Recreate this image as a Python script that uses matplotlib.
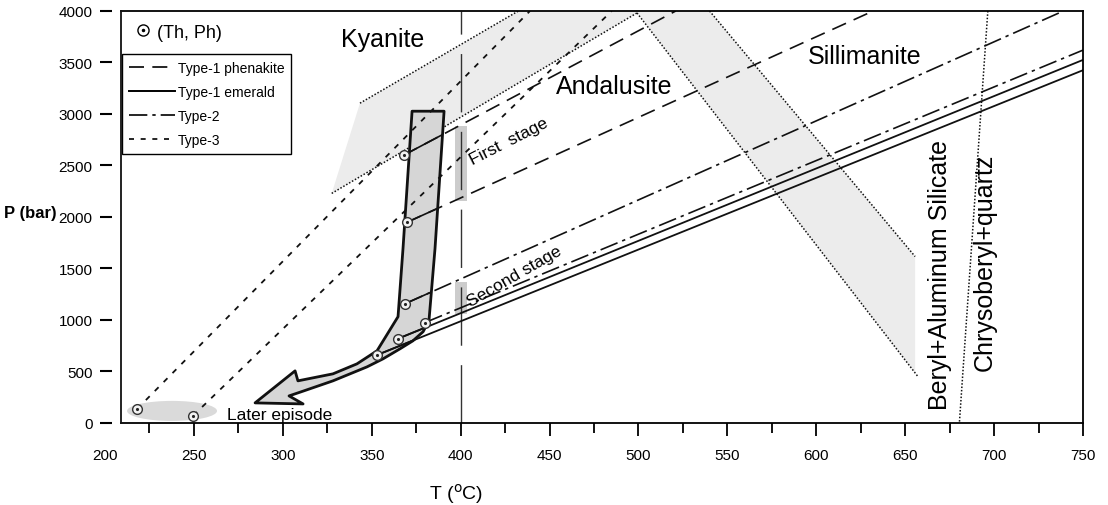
import numpy as np
import matplotlib.pyplot as plt
from matplotlib.lines import Line2D
from matplotlib.patches import Polygon, Ellipse
from matplotlib.legend_handler import HandlerTuple
from matplotlib.ticker import MultipleLocator

plt.rcParams['font.family'] = ['Liberation Sans', 'DejaVu Sans']

# isochores: start at the (Th, Ph) point, end where they leave the frame (T in C, P in bar)
phen_start = [(368, 2600), (370, 1950)]
phen_end = [(521, 4000), (632, 4000)]
emer_start = [(365, 820), (353, 660)]
emer_end = [(750, 3525), (750, 3425)]
type2_start = [(369, 1160), (380, 975)]
type2_end = [(739, 4000), (750, 3620)]
type3_start = [(218, 135), (249.5, 70)]
type3_end = [(439, 4000), (485, 4000)]

# Al2SiO5 boundaries (dotted band edges)
ky_upper = [(343.4, 3105), (432.5, 4000)]
ky_lower = [(327.5, 2229), (499.2, 3981)]
sil_left = [(499.2, 3981), (657.3, 448)]
sil_right = [(540, 4000), (655.6, 1616)]
# beryl + Al-silicate = chrysoberyl + quartz
bsi_line = [(696.5, 4000), (680.5, 0)]

# P-T path outline (gray arrow)
path_T = [372.7, 390.7, 385.6, 382.2, 378.9, 373.2, 365.9, 356.4, 347.4, 328.2, 310.2,
          303.5, 311.4, 284.4, 306.9, 308.5, 328.2, 341.7, 353.0, 364.8, 367.6]
path_P = [3027, 3027, 1693, 993, 886, 798, 720, 623, 545, 409, 302,
          263, 185, 195, 506, 409, 477, 574, 701, 1032, 1693]

first_stage_P = (2151, 2881)
second_stage_P = (1061, 1372)
stage_T = (396.6, 403.4)

legend_labels = ['Type-1 phenakite', 'Type-1 emerald', 'Type-2', 'Type-3']

phen_ls = (0, (9, 5))
type2_ls = (0, (11, 3, 2, 3))
type3_ls = (0, (3, 4))
dot_ls = (0, (1, 1.2))

fig = plt.figure(figsize=(11.08, 5.06), dpi=100)
ax = fig.add_axes([0.1092, 0.1621, 0.8682, 0.8142])
ax.set_xlim(209, 750)
ax.set_ylim(0, 4000)

# shaded aluminum silicate bands
e_P = np.interp(sil_right[1][0], [sil_left[0][0], sil_left[1][0]], [sil_left[0][1], sil_left[1][1]])
band = Polygon([ky_upper[0], ky_upper[1], sil_right[0], sil_right[1],
                (sil_right[1][0], e_P), ky_lower[1], ky_lower[0]],
               closed=True, facecolor='#ececec', edgecolor='none', zorder=0.5)
ax.add_patch(band)
for seg in (ky_upper, ky_lower, sil_left, sil_right, bsi_line):
    ax.plot(*zip(*seg), color='#111111', lw=1.1, ls=dot_ls, zorder=1)

# T = 400 C reference line and stage bars
ax.axvline(400, color='#333333', lw=1, ls=(0, (42, 14)), zorder=1.2)
for p0, p1 in (first_stage_P, second_stage_P):
    ax.fill_between(stage_T, p0, p1, color='#cccccc', lw=0, zorder=1.1)

# gray ellipse around type-3 points
ax.add_patch(Ellipse((237.7, 117), 50.6, 195, facecolor='#dadada', edgecolor='none', zorder=1))

# P-T path arrow
arrow = Polygon(list(zip(path_T, path_P)), closed=True, facecolor='#d6d6d6',
                edgecolor='#111111', lw=2, joinstyle='round', zorder=1.5)
ax.add_patch(arrow)

groups = [(phen_start, phen_end, phen_ls, 1.2), (emer_start, emer_end, '-', 1.3),
          (type2_start, type2_end, type2_ls, 1.2), (type3_start, type3_end, type3_ls, 1.3)]
for k, (starts, ends, ls, lw) in enumerate(groups):
    for s, e in zip(starts, ends):
        ax.plot([s[0], e[0]], [s[1], e[1]], color='#111111', lw=lw, ls=ls, zorder=2)
        if k < 3:
            solid, = ax.plot([s[0], e[0]], [s[1], e[1]], color='#111111', lw=lw, zorder=2.1)
            solid.set_clip_path(arrow)
        ax.plot(s[0], s[1], marker='o', ms=7, mfc='#f2f2f2', mec='#333333', mew=1, ls='none', zorder=3)
        ax.plot(s[0], s[1], marker='.', ms=2.5, color='#222222', ls='none', zorder=3.1)

# labels
ax.text(356.4, 3727, 'Kyanite', fontsize=18, ha='center', va='center')
ax.text(486.3, 3270, 'Andalusite', fontsize=18, ha='center', va='center')
ax.text(627.4, 3562, 'Sillimanite', fontsize=18, ha='center', va='center')
ax.text(669.6, 1450, 'Beryl+Aluminum Silicate', fontsize=18, rotation=90, ha='center', va='center')
ax.text(694.9, 1567, 'Chrysoberyl+quartz', fontsize=18, rotation=90, ha='center', va='center')
ax.text(427.2, 2744, 'First  stage', fontsize=12.5, rotation=27, ha='center', va='center')
ax.text(430, 1431, 'Second stage', fontsize=12.5, rotation=30, ha='center', va='center')
ax.text(298.4, 83, 'Later episode', fontsize=12.5, ha='center', va='center')

# legends
handles = [Line2D([], [], color='k', lw=1.2, ls=phen_ls),
           Line2D([], [], color='k', lw=1.4),
           Line2D([], [], color='k', lw=1.2, ls=type2_ls),
           Line2D([], [], color='k', lw=1.2, ls=type3_ls)]
leg = ax.legend(handles, legend_labels, loc='upper left', bbox_to_anchor=(0.001, 0.896),
                borderaxespad=0, fancybox=False, edgecolor='k', framealpha=1,
                fontsize=10, handlelength=3.3, handletextpad=0.2, labelspacing=0.72,
                borderpad=0.5)
leg.get_frame().set_linewidth(1)
ax.add_artist(leg)
mk = (Line2D([], [], marker='o', ms=8, mfc='white', mec='k', mew=1, ls='none'),
      Line2D([], [], marker='.', ms=3, color='k', ls='none'))
leg2 = ax.legend([mk], ['(Th, Ph)'], handler_map={tuple: HandlerTuple(ndivide=1)},
                 loc='upper left', bbox_to_anchor=(0.0, 1.0), frameon=False,
                 fontsize=13, handlelength=1, handletextpad=0.3, borderaxespad=0.3)

# axes / ticks
ax.spines['left'].set_position(('outward', 6.5))
ax.spines['left'].set_visible(False)
ax.axvline(ax.get_xlim()[0], color='#111111', lw=1.3, clip_on=False, zorder=5)
for side in ('top', 'right', 'bottom'):
    ax.spines[side].set_linewidth(1.3)
ax.set_yticks(np.arange(0, 4001, 500))
ax.set_xticks(np.arange(250, 751, 50))
ax.xaxis.set_minor_locator(MultipleLocator(25))
ax.tick_params(axis='y', length=9, width=1.5, pad=5, labelsize=11)
ax.tick_params(axis='x', which='major', length=9, width=1.3, pad=9, labelsize=11)
ax.tick_params(axis='x', which='minor', length=7, width=1.3)
ax.text(200, -0.06, '200', transform=ax.get_xaxis_transform(), ha='center', va='top',
        fontsize=11, clip_on=False)

ax.set_xlabel('T ($^{\\mathrm{o}}$C)', fontsize=14)
ax.xaxis.set_label_coords(0.348, -0.14)
ax.set_ylabel('P (bar)', fontsize=12, fontweight='bold', rotation=0, va='center', ha='center')
ax.yaxis.set_label_coords(-0.094, 0.512)

plt.savefig('out.png', dpi=100)
